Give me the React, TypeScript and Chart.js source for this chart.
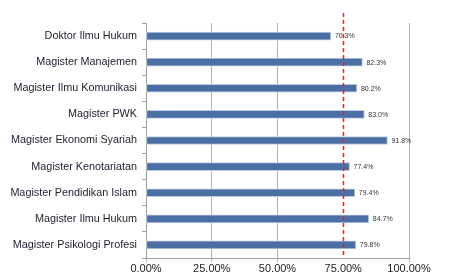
import React, { useEffect, useRef } from "react";
import { Chart, registerables } from "chart.js";

Chart.register(...registerables);

const categories = [
  "Doktor Ilmu Hukum",
  "Magister Manajemen",
  "Magister Ilmu Komunikasi",
  "Magister PWK",
  "Magister Ekonomi Syariah",
  "Magister Kenotariatan",
  "Magister Pendidikan Islam",
  "Magister Ilmu Hukum",
  "Magister Psikologi Profesi",
];
const values = [70.3, 82.3, 80.2, 83.0, 91.8, 77.4, 79.4, 84.7, 79.8];
const targetValue = 75;
const xTicks = [0, 25, 50, 75, 100];

const FONT = "'Liberation Sans', Arial, sans-serif";

const extrasPlugin = {
  id: "extras",
  afterDatasetsDraw(chart: any) {
    const ctx = chart.ctx;
    const xs = chart.scales.x;
    const area = chart.chartArea;
    const meta = chart.getDatasetMeta(0);
    ctx.save();
    ctx.font = `7px ${FONT}`;
    ctx.fillStyle = "#333";
    ctx.textBaseline = "middle";
    ctx.textAlign = "left";
    meta.data.forEach((bar: any, i: number) => {
      ctx.fillText(values[i].toFixed(1) + "%", bar.x + 4, bar.y + 0.5);
    });
    const x = Math.round(xs.getPixelForValue(targetValue)) + 0.5;
    ctx.strokeStyle = "#ff1a1a";
    ctx.lineWidth = 1.5;
    ctx.setLineDash([4, 3]);
    ctx.beginPath();
    ctx.moveTo(x, 13);
    ctx.lineTo(x, area.bottom);
    ctx.stroke();
    ctx.restore();
  },
};

export default function App() {
  const ref = useRef<HTMLCanvasElement>(null);
  useEffect(() => {
    if (!ref.current) return;
    const chart = new Chart(ref.current, {
      type: "bar",
      data: {
        labels: categories,
        datasets: [
          {
            data: values,
            backgroundColor: "#4a6fa5",
            borderColor: "#bccbde",
            borderWidth: 1,
            borderSkipped: false,
            barThickness: 8,
          },
        ],
      },
      options: {
        indexAxis: "y",
        animation: false,
        responsive: false,
        maintainAspectRatio: false,
        layout: { padding: { top: 23, right: 53, left: 0, bottom: 0 } },
        plugins: { legend: { display: false }, tooltip: { enabled: false } },
        scales: {
          x: {
            min: 0,
            max: 100,
            afterBuildTicks(scale: any) {
              scale.ticks = xTicks.map((v) => ({ value: v }));
            },
            afterFit(scale: any) {
              scale.height = 17;
            },
            ticks: {
              callback: (v: any) => Number(v).toFixed(2) + "%",
              font: { family: FONT, size: 11 },
              color: "#222",
              padding: 0,
              maxRotation: 0,
            },
            grid: {
              color: (c: any) => (c.tick && c.tick.value === targetValue ? "rgba(0,0,0,0)" : "#b4b4b4"),
              tickLength: 4,
              lineWidth: 1,
            },
            border: { display: true, color: "#a0a0a0" },
          },
          y: {
            afterFit(scale: any) {
              scale.width = 146;
            },
            ticks: {
              font: { family: FONT, size: 10.8 },
              color: "#1e1e30",
              padding: 5,
            },
            grid: {
              offset: true,
              drawOnChartArea: false,
              tickLength: 4,
              color: "#a0a0a0",
            },
            border: { display: true, color: "#a0a0a0" },
          },
        },
      },
      plugins: [extrasPlugin],
    });
    return () => chart.destroy();
  }, []);
  return (
    <div style={{ position: "fixed", left: 0, top: 0, width: 462, height: 275, background: "#fff" }}>
      <canvas ref={ref} width={462} height={275} style={{ width: 462, height: 275 }} />
    </div>
  );
}
